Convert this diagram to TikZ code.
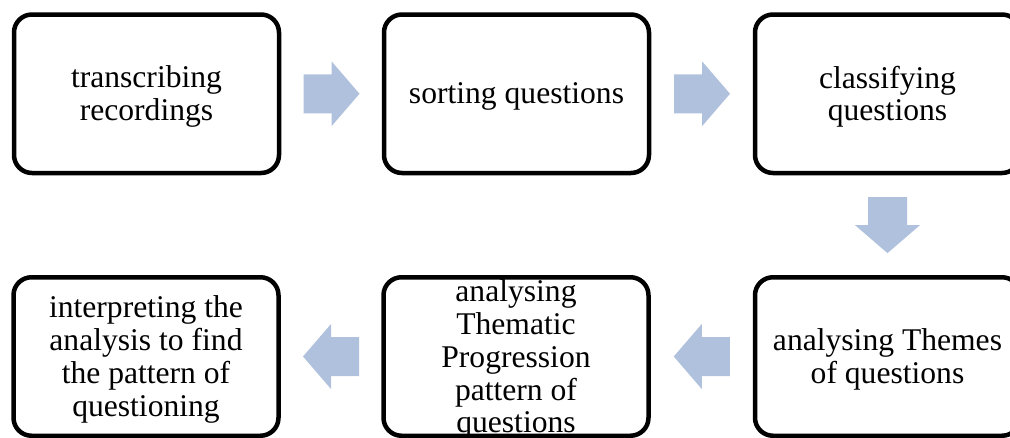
\documentclass[tikz,border=0pt]{standalone}
\usepackage{fontspec}
\setmainfont{Liberation Serif}
\usetikzlibrary{calc}
\definecolor{arrowblue}{RGB}{176,193,221}
\begin{document}
\begin{tikzpicture}[x=1pt,y=-1pt,
  box/.style={draw=black, line width=4.5pt, rounded corners=18pt, minimum width=265pt, minimum height=158.5pt, inner sep=0pt},
  txt/.style={align=center, font=\fontsize{31.6}{32.9}\selectfont, inner sep=0pt, yshift=-3pt},
  blockarrow/.pic={\fill[arrowblue] (-28,-19.5) -- (0,-19.5) -- (0,-32.5) -- (28,0) -- (0,32.5) -- (0,19.5) -- (-28,19.5) -- cycle;}]
\useasboundingbox (0,0) rectangle (1010,437);
\clip (0,0) rectangle (1010,437);
\node[box] (b1) at (146.5,93.75) {};
\node[box] (b2) at (516.5,93.75) {};
\node[box] (b3) at (887.5,93.75) {};
\node[box] (b4) at (887.5,356.5) {};
\node[box] (b5) at (516,356.5) {};
\node[box] (b6) at (146,356.5) {};
\node[txt] (t1) at (b1) {transcribing\\recordings};
\node[txt] (t2) at (b2) {sorting questions};
\node[txt] (t3) at (b3) {classifying\\questions};
\node[txt] (t4) at (b4) {analysing Themes\\of questions};
\node[txt] (t5) at (b5) {analysing\\Thematic\\Progression\\pattern of\\questions};
\node[txt] (t6) at (b6) {interpreting the\\analysis to find\\the pattern of\\questioning};
\pic at ($(b1.east)!0.5!(b2.west)$) {blockarrow};
\pic at ($(b2.east)!0.5!(b3.west)$) {blockarrow};
\pic[rotate=-90] at ($(b3.south)!0.5!(b4.north)$) {blockarrow};
\pic[rotate=180] at ($(b4.west)!0.5!(b5.east)$) {blockarrow};
\pic[rotate=180] at ($(b5.west)!0.5!(b6.east)$) {blockarrow};
\end{tikzpicture}
\end{document}
